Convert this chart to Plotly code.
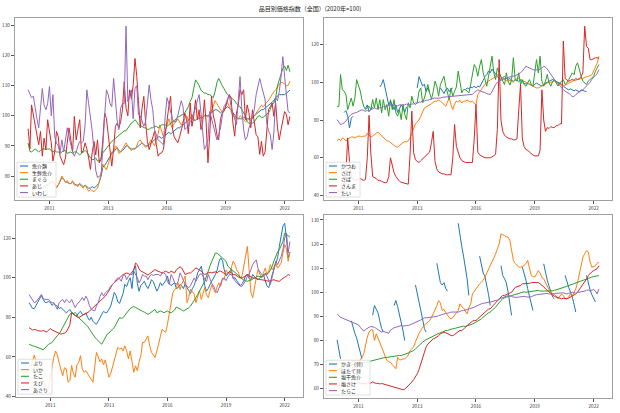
import pandas as pd
import plotly.graph_objects as go

N = None
months = pd.date_range("2010-01-01", periods=148, freq="MS")
tick_labels = ["2011", "2013", "2016", "2019", "2022"]
tick_month_index = [12, 45, 78, 111, 144]
title_text = "品目別価格指数（全国）(2020年=100)"

# ---------------- panel 1 ----------------
gyokairui = [
    77, 77.5, 77, 76.5, 77, 77.5, 77, 76.5, 76, 76.5, 77, 77,
    77.5, 78, 78, 77, 76.5, 77, 78, 79.5, 79, 78, 78, 77.5,
    77.5, 78, 77.5, 77, 77, 77.5, 77, 76.5, 77, 76.5, 76, 76,
    76.5, 76, 76.5, 77, 78, 80, 83, 83.5, 84.5, 85.5, 86.5, 87.5,
    88, 89, 89.5, 88.5, 88, 88.5, 89, 90, 90, 89.5, 89, 89,
    89, 89.5, 90, 90.5, 91, 90.5, 90, 90, 90.5, 91, 91.5, 92,
    92.5, 93, 93, 92.5, 93, 93.5, 94, 94.5, 94, 94.5, 95, 95.5,
    96, 96, 96.5, 97, 97.5, 98, 98.5, 99, 99, 98.5, 98.5, 99,
    99, 99.5, 99.5, 100, 100, 100, 100.5, 101, 101.5, 102, 102, 101.5,
    101, 101.5, 102, 102.5, 103, 102.5, 102, 101, 100, 99.5, 99, 99,
    99, 99.5, 99.5, 99, 99, 99, 99.5, 100, 100.5, 101, 101.5, 102,
    102, 102.5, 103, 103.5, 104, 104.5, 105, 106, 106.5, 107, 107, 107,
    107, 107.5, 108, 108.5]
seisen_gyokai = [
    77, 77.5, 76.5, 76, 76.5, 77.5, 77, 76, 75.5, 76.5, 77, 77,
    77.5, 78, 78.5, 77, 76, 77, 78.5, 80, 79, 78, 78.5, 77.5,
    77.5, 78.5, 77, 77, 76.5, 77.5, 76.5, 76, 77, 76, 75, 75.5,
    75, 74.8, 75.5, 76, 78, 81, 84, 83, 82, 84, 86, 88,
    88, 90, 89.5, 87.5, 88, 89, 90, 91, 90, 89, 88.5, 89,
    89, 90, 91.5, 92, 91, 90, 89.5, 90, 91, 92, 91, 90,
    92, 94, 97, 94.5, 93, 95, 97, 99, 97, 96, 97.5, 98,
    99, 98, 97, 98, 99, 100, 98.5, 99, 100.5, 99, 98.5, 99,
    100, 100, 99.5, 100, 100, 99.5, 100, 101.5, 103, 105, 104, 103,
    102, 101, 102, 103, 104.5, 103, 101.5, 100, 99.5, 99, 99, 100,
    99.5, 98.5, 98, 98.5, 99, 98.5, 99, 100, 101, 102, 103, 103.5,
    103, 104, 104.5, 105, 106, 107, 108, 108.5, 109.5, 110.5, 111, 111,
    110.5, 110, 110, 111.5]
maguro = [
    91, 88.2, 88, 88.5, 89, 88.5, 88, 88.5, 89, 89, 88.8, 89,
    89, 88.5, 88, 88.5, 88, 88, 87.5, 88, 88.5, 88.5, 87.5, 87.8,
    88, 87.5, 88, 88, 87.5, 87, 87.5, 88, 88.5, 88, 87, 86,
    85.5, 85.5, 86, 85, 85, 86, 87.7, 88.5, 89, 90, 90.5, 91.5,
    92, 92.5, 93, 93.5, 94, 94.5, 95, 95, 96, 96.5, 97.6, 98,
    98.7, 98, 97, 96.5, 96.5, 96, 96, 95.5, 95.5, 96, 96, 96.5,
    96.5, 96, 96.5, 97, 97, 97, 96.5, 97, 97.5, 98, 98, 99,
    99.5, 99.8, 100, 100.5, 101, 102, 103, 104.7, 106, 109, 111.9, 111,
    110, 108.5, 108, 107.5, 107.5, 107, 107, 106.5, 106, 108, 111, 112.4,
    111, 110, 109, 108, 107, 106.5, 106, 105.3, 105, 104, 103.5, 103,
    102, 101, 100, 98, 97.5, 97.5, 97.6, 98, 99, 99.8, 100, 99.5,
    99.5, 100, 100.5, 101, 102, 104, 104.2, 106, 110, 112, 114, 115.7,
    116.5, 115, 116.8, 114.6]
aji = [
    95.7, 89, 103.6, 100, 97, 93, 90.4, 94.8, 86.6, 92.6, 88.8, 98.7,
    95, 91, 85, 88, 94.8, 93, 86.6, 85, 83.8, 86, 91, 96,
    92, 88, 99.8, 92, 95.4, 98.7, 87.7, 88.5, 91, 89, 86, 82.2,
    88, 91.5, 87, 92, 84.4, 85.5, 92, 100.9, 99, 93, 87, 83.3,
    89, 96.5, 97.5, 96, 98, 102, 111.3, 102.5, 100, 108.6, 105.5, 110,
    119, 113, 105, 96, 102.5, 106.4, 98, 91.5, 88.8, 91, 93, 94.8,
    90.4, 86.6, 87.5, 87.7, 88.8, 93.7, 100, 103, 106.4, 96, 93, 92,
    91, 93, 94.8, 97.5, 100.9, 99, 94, 104.2, 96.5, 100, 105.3, 98.7,
    102, 95.4, 97.5, 105.3, 97.6, 84.4, 93.7, 106.4, 100, 97.6, 93.7, 92,
    99, 101, 101.4, 103.6, 105.5, 107, 106, 97.6, 93.2, 100.9, 103.6, 108.6,
    107, 108.6, 98.7, 103.6, 101, 96, 102, 97.6, 93.7, 93, 87.2, 91.5,
    86.6, 88, 95, 102, 103, 104.2, 99.8, 104.2, 96, 92, 95.4, 98.7,
    101.4, 100.3, 97, 99.8]
iwashi = [
    108.6, 107, 106, 106.5, 102, 99, 96, 102, 109, 103.6, 102, 104,
    109.7, 100, 107, 93, 91, 90, 87.7, 92, 88, 92, 96, 93,
    90, 88, 86.6, 88, 90, 91.5, 91, 91.5, 97, 108.6, 104, 100,
    94.8, 88, 82, 79.5, 80, 80, 91, 100, 108.6, 107, 104, 103,
    112.4, 105, 98.7, 95.4, 102.5, 104, 104, 129.7, 104.7, 107, 108.6, 99,
    109, 110, 100.3, 100, 98, 96.5, 98, 105, 110.2, 105.3, 102, 95.4,
    94, 92, 91.5, 91, 90.4, 100, 106, 104, 101.4, 99, 98, 98,
    100, 103, 105, 103, 95.4, 96, 96, 98, 99, 101, 102.5, 105,
    107, 101, 95.4, 88.8, 90, 92, 101.4, 99, 96.5, 95, 92, 93.7,
    96, 100, 103, 104, 105.3, 107, 103, 100.9, 99, 97, 105, 113,
    102, 95.4, 92, 93, 96, 97.6, 100, 102, 107, 110, 112.4, 110,
    108, 105.3, 97.6, 95, 93.7, 88.8, 94.3, 106, 105, 108, 113, 119.6,
    113, 106.4, 101.4, 101]

# ---------------- panel 2 ----------------
katsuo = [
    N, N, N, N, 84, 85, 82, 75.8, 81, 82, N, N,
    N, N, N, N, 86, 88, 84.5, 86, 87, N, N, N,
    97.5, 99, 101.4, 96, 92.5, 88, 90, 88, 85.5, 88, 84, 86,
    88, 86.5, 84, 87, N, N, N, N, N, 97, 103, 100.5,
    98, 99, 95, 97, 94.5, N, N, N, N, N, 97, 95.5,
    94, 96, 97, 95, 96.5, 97, N, N, N, N, N, N,
    96, 97, 96.5, 97.5, 97, 98, 97, 98, 97.5, 99, 101, 103,
    104, 106, 105, 107, 105.5, 104, 103, 102, 101.5, 102.5, 103, 102,
    101.5, 102, 101, 100.5, 101.5, 101, 100.5, 101, 100, 99.5, 99, 99.5,
    99, 98.5, 98, 99, 99.5, 99, 98.5, 98, 99, 99.5, 100, 100.5,
    101, 101.5, 101, 100.5, 100, 99.5, 99, 98, 97, 96.5, 96, 96.5,
    96, 95.5, 96, 95.5, 95, 96, 95.5, 95.3, 95, N, N, N,
    N, N, N, N]
sake = [
    69.1, 70, 69, 70.5, 70, 68.8, 70, 70.5, 71, 71, 70.5, 71,
    71.5, 71.4, 71, 71.5, 71.4, 73, 72, 71, 71.5, 72.5, 73, 73.5,
    72.5, 71.5, 71, 70, 69, 68.8, 68, 67, 66.5, 66, 65.6, 66.5,
    67.5, 68, 68.5, 68.5, 69, 70.5, 73, 76, 78, 79, 80, 82,
    84, 86.4, 87, 87.5, 88, 88.5, 89.5, 90, 90, 90.5, 90, 89,
    88, 87.3, 89.5, 91.7, 88, 85.5, 88.5, 90, 89.5, 90.5, 89, 90,
    90, 90.5, 90, 89.5, 90, 89, 88, 93.5, 95, 96, 97.5, 99,
    100, 100.6, 101, 101.5, 102, 103, 104, 103.5, 102.5, 102, 101.5, 101,
    100.5, 101, 100.6, 100, 101, 102, 102, 101.5, 101, 100.6, 100, 99.5,
    99, 98.5, 98, 97.5, 97, 97, 97.5, 98, 98.5, 99, 99.7, 100,
    100, 100.5, 100.6, 100, 99.5, 99, 98.5, 98, 98.5, 99, 99.5, 100,
    100.5, 101, 101, 101.5, 101.5, 102, 102, 102.5, 103, 103, 103.5, 104,
    106, 108, 110, 113.8]
saba = [
    87, 87.3, 104.1, 96, 95.3, 93.5, 85.5, 88.2, 91.7, 87.3, 91.7, 101.4,
    98.8, 95.3, 90.8, 87.3, 85.5, 86.5, 87.3, 85.5, 90.8, 86.5, 91.7, 85.5,
    90.8, 83.8, 90.8, 85.5, 88.2, 82, 90.8, 85.5, 90.8, 83.8, 82, 85.5,
    80.2, 88.2, 83, 80.2, 89.1, 86.5, 92.6, 89, 88.2, 89.1, 95.3, 97,
    89.1, 91.7, 96, 98.8, 94.4, 91, 95, 100.6, 97.9, 92.6, 98.8, 101,
    103.2, 97.9, 94.4, 90.8, 97, 92.6, 95.3, 97.5, 105.9, 100.6, 94.4, 96.1,
    96.1, 95.3, 94.4, 98.8, 103.2, 109.4, 107.6, 103.2, 108.5, 112, 105, 100.6,
    97.9, 103.2, 108.5, 113.8, 105, 101.4, 107.6, 105, 102.3, 100.6, 98.8, 105,
    100.6, 98.5, 101.4, 113, 101.4, 100.6, 105, 98.8, 101.4, 98.8, 97.9, 99.7,
    101.4, 98.8, 97.9, 105, 112, 105, 113.8, 100.6, 97.9, 100.6, 104.1, 99.7,
    97.9, 100.6, 101.4, 99.7, 98, 99.7, 100.6, 101.4, 98.8, 99.7, 101.4, 103.2,
    105, 104, 108.5, 110.3, 106, 103.2, 100.6, 99.7, 98.8, 100.6, 101.4, 102.3,
    103.2, 105.9, 107.6, 109.4]
sanma = [
    43, 42.5, 42, 42.5, 44, 52, 70.5, 58, 50, 48.5, 48, 48.5,
    48.5, 49, 48.5, 48, 48.5, 60, 82.5, 62, 50, 49.5, 49, 48,
    48, 47.5, 47, 46.7, 47, 50, 60, 56, 52, 50, 48.5, 47.6,
    47, 46.7, 46.5, 46.5, 46, 62, 84.7, 62.6, 59, 58, 57.5, 58.5,
    59.5, 60, 61, 62, 63, 68, 74, 58, 54, 52.5, 52, 51.5,
    51.5, 51, 51, 51, 51, 60, 77.6, 66, 62.6, 60, 58.5, 58,
    57.5, 57.5, 57.3, 57.5, 57.5, 70, 88.2, 63, 61.5, 61, 60.5, 60,
    60, 60, 60, 60.5, 61, 62, 75, 112, 80, 74, 72, 71,
    70.5, 70, 70, 69.5, 69.5, 70, 85, 98.8, 70, 66, 64.3, 64,
    63, 62, 61.5, 61, 61, 61, 64, 96, 80, 74, 76, 75.5,
    76.5, 76, 76, 77, 77, 78, 78, 121.8, 102, 101, 100.5, 101,
    101.5, 101, 102, 101.5, 102, 103, 105, 129.7, 119, 118, 112, 112,
    112.5, 113, 113, 112.5]
tai = [
    80.2, 78.5, 77.6, 78, 78.5, 79.5, 81, 82, 83, 83.5, 83.8, 84,
    84.5, 85, 85.5, 85, 84.7, 85, 84.7, 85.5, 86, 86.4, 86, 86,
    86.5, 86.5, 87, 87.3, 87.5, 87.5, 88, 88, 88, 87.5, 87.5, 88,
    88, 88, 88, 88.5, 88, 88, 88.5, 88.5, 89, 89, 89.5, 89.5,
    90, 90, 90.5, 90.5, 90.8, 91, 91.5, 91.7, 91.5, 91.5, 91.7, 92,
    92, 92, 92.3, 92.4, 92.5, 92.6, 92.8, 93, 93, 93.2, 93.3, 93.4,
    93.5, 93.5, 93.5, 93.5, 93.6, 94.5, 95.5, 96, 95.5, 95.3, 95, 94.5,
    94, 93.8, 93.5, 95, 97, 98.8, 100, 100.6, 101.2, 101.8, 102, 102.3,
    102.5, 102.8, 103, 103.2, 103.5, 104, 104.5, 105, 106, 107, 108.5, 108,
    107.5, 107, 106.7, 106.5, 106.5, 106.7, 107, 107.5, 108.5, 108, 107, 105.5,
    104.5, 103, 101.5, 100.6, 99.5, 98, 97, 96, 95.3, 94.7, 94, 93.5,
    92.3, 92.5, 93.5, 94.3, 95, 95.5, 96, 97, 98, 98.8, 100, 101.5,
    102.3, 103.5, 104.5, 106.7]

# ---------------- panel 3 ----------------
buri = [
    87.4, 85.5, 84.5, 84.4, 86, 88, 90, 91, 89, 87.5, 87.5, 88,
    87.5, 86, 87, 86, 85.7, 84.4, 85, 84, 83, 82.3, 83, 84,
    82.5, 81.5, 81, 80.8, 82.3, 83, 81.5, 81.3, 82.3, 80, 78.5, 80,
    78, 77, 76.5, 78, 80, 81.5, 83, 82.3, 82.5, 84, 85.7, 89,
    92.5, 91, 88, 87, 89.5, 92, 96.6, 95.5, 98.2, 100, 94.5, 104,
    106, 97, 93.2, 96, 97, 98.2, 96, 94.5, 96.5, 99, 98, 95,
    93.2, 95, 97.5, 96, 97.5, 98.5, 100.8, 97, 96, 97, 97.5, 94.5,
    95, 96.5, 96, 94.5, 97, 95, 93.2, 92, 94.5, 96, 99, 102.5,
    104, 105.8, 101.6, 96, 93.2, 94.5, 96.6, 98.2, 99.5, 101.6, 104, 108,
    110, 108.5, 104, 101, 101.6, 103.5, 104.5, 99.5, 100, 98.5, 97.5, 96,
    97, 98.5, 101, 101.6, 99.5, 99, 101.6, 100.5, 99.5, 99, 100, 101,
    101.6, 98.5, 96, 95, 97.5, 101.6, 104, 107, 110, 115.8, 121, 126,
    127.5, 120, 110, 113]
ika = [
    56, 55, 58, 60.9, 57, 52, 51, 50, 48, 46, 45, 43.9,
    50, 56, 59.7, 63, 61, 57, 54, 50.5, 54.5, 54, 47.2, 48,
    55.6, 51.5, 49.7, 56, 57.2, 60.6, 54, 52.2, 53, 51.5, 49.7, 48.5,
    47.2, 55, 62.3, 60, 57.5, 59, 56, 58.5, 53, 49.7, 51.5, 55,
    58.5, 62, 64.8, 64, 64.5, 63, 65.6, 63, 59, 63, 57.5, 52.2,
    55.5, 53, 57.5, 60.6, 67.3, 67.3, 69, 70.6, 65.6, 62.3, 61, 59.7,
    63, 67, 70.6, 74, 73, 72.4, 76.5, 81.5, 87.4, 92.4, 94, 95,
    97.4, 94, 96.5, 99, 100.8, 87.4, 90, 94.3, 93, 91.7, 87.4, 91,
    93.5, 89, 92.5, 95, 91.5, 89.9, 93.5, 96.5, 94, 92.4, 95.7, 97.4,
    95.7, 99.8, 99, 103.9, 102.5, 101.6, 105, 108.3, 106.6, 104, 102.5, 99.8,
    101, 106.6, 110, 115.8, 104, 92.4, 89.9, 95.7, 100, 104, 101.6, 99.8,
    102.5, 104.8, 101.6, 103.5, 106.6, 104, 105.5, 107.4, 104.8, 106, 107.4, 112.4,
    116.7, 114.3, 108.3, 113]
tako = [
    66.4, 65.8, 65.6, 65.4, 65, 64.6, 64.3, 63.8, 63.6, 64.5, 65.5, 66.4,
    66.8, 67.3, 68.5, 69.8, 70.8, 71.5, 73, 74.5, 76.5, 78.2, 80, 81.5,
    82.3, 82, 82.3, 81.5, 79.8, 79, 78.2, 77.5, 76.5, 75.5, 74, 72.5,
    71.5, 70, 69, 68, 67.3, 66.4, 68, 69.8, 71.5, 72, 73.2, 74,
    74.8, 76.5, 78.2, 79.8, 79.5, 79.8, 81, 82.3, 83.5, 84.4, 85, 85.4,
    85, 84.4, 84, 83.7, 83, 82.6, 82, 81.5, 82, 82.6, 83.5, 84,
    82.3, 82.8, 83.2, 82.8, 82.3, 82.8, 83.2, 82.5, 82.3, 83, 83.7, 85.2,
    84.8, 84.4, 83.8, 83.2, 83.6, 84, 84.8, 85.7, 87, 88.2, 90, 91.5,
    93, 94.9, 96.5, 98.2, 101, 103.3, 106, 108.3, 110.5, 112.5, 112.3, 111.6,
    110.5, 110, 109, 108.3, 105.8, 105, 104.1, 103, 102.4, 101.5, 100.8, 99.9,
    99.3, 98.7, 98.5, 98.2, 98.5, 98.7, 99.3, 99.9, 100.5, 100.8, 100.6, 100.5,
    101, 101.6, 102, 102.4, 104, 105.8, 108.5, 110.8, 113, 114.1, 116, 118.3,
    122.5, 121.7, 120.8, 120.5]
ebi = [
    74.8, 74, 73.6, 73.8, 73.7, 73.2, 73.1, 73, 73.3, 72.8, 72.6, 73.5,
    74.3, 73.6, 73.2, 72.8, 72.6, 72, 71.5, 71.8, 72, 72.6, 74, 76,
    82.3, 81.5, 81, 80.2, 79.8, 80.5, 81, 81.5, 81.8, 82.3, 83, 84,
    84.8, 85.7, 86.5, 87.4, 88.2, 89, 89.8, 90.7, 92, 93.2, 95, 96.6,
    97.5, 98.2, 99, 99.9, 100.8, 101.6, 102, 102.4, 102, 101.6, 102.8, 104,
    107.4, 106.6, 104.5, 103.3, 103, 102.4, 102, 101.3, 102, 102.6, 103.3, 104.1,
    103.5, 103.3, 102.8, 102.4, 103, 103.3, 102.8, 102.4, 103.3, 102.8, 102.4, 104,
    105, 105.5, 105, 103.3, 101.6, 102, 102.4, 102.4, 103, 104, 105, 104.5,
    104.1, 103.3, 102.4, 101.6, 102, 102.4, 102.8, 102.4, 102.8, 103, 102.4, 103.3,
    103.3, 102.8, 102.4, 101.6, 102.4, 103, 102.4, 101.6, 101.6, 100.8, 100.3, 99.9,
    99.9, 100.3, 100.8, 101.6, 101, 100.3, 99.9, 99.9, 99.5, 99.2, 99, 99,
    98.7, 98.5, 98.2, 98.2, 98.5, 98.7, 99, 98.5, 98.2, 98.2, 99, 99.9,
    100.3, 100.8, 101.6, 101.1]
asari = [
    91.5, 90, 89, 87.4, 87.8, 89, 90.5, 91.5, 89.5, 89, 89, 89,
    88, 87.4, 87.4, 85.5, 84, 87.4, 88.2, 89, 87.4, 89, 88, 87.4,
    89, 86.5, 84.9, 86.5, 87.4, 88.5, 90, 88.5, 90.7, 89, 86, 84,
    83.5, 83.2, 85.7, 87.4, 90.5, 92.4, 90.7, 92.4, 93.2, 94, 95.7, 96.6,
    97.4, 99, 99.9, 99.5, 98.2, 101, 101.6, 99, 100.8, 101.6, 101.6, 103.3,
    101.6, 99.9, 97.4, 99, 101.6, 100.8, 100.8, 99, 100.8, 101.6, 101.1, 101.6,
    101.6, 101.6, 100.8, 102.4, 102.4, 101.6, 98, 96.6, 101.6, 100, 97.5, 96.6,
    98.2, 102.4, 100.8, 99, 96.6, 95.7, 94.9, 96, 98.2, 99.9, 98.2, 100,
    101.6, 102, 100.8, 99.9, 98, 101.6, 99, 97, 95.7, 93.5, 92.4, 94.9,
    97, 99.5, 99.9, 98.5, 100.3, 101.6, 101.6, 99.9, 98.5, 97.4, 96.6, 95.7,
    95.7, 97, 98.5, 100.8, 102, 104, 106.6, 108, 109, 104.5, 103, 101.6,
    100.8, 102.4, 100.8, 98.2, 96.6, 100.5, 104, 108.3, 106.6, 108.5, 110.8, 114.2,
    120, 122.5, 112.5, 118.3]

# ---------------- panel 4 ----------------
kaki = [
    80.3, 76.5, 72.4, N, N, N, N, N, 88.2, 85, 83, 81,
    78, 75, 72.4, N, N, N, N, N, 90.5, 94.5, 93, 91.5,
    88, 85, 83.5, N, N, N, N, N, 94.5, 96.6, 94, 91,
    88, 84, 80, N, N, N, N, N, 103, 100, 96, 92.5,
    88, 85, 83.5, N, N, N, N, N, 112, 108, 104, 103,
    104, 101.5, 100.5, N, N, N, N, N, 128.6, 123, 119, 115,
    110, 105.5, 98.7, N, N, N, N, N, 115, 111, 108, 106.5,
    103, 99, 94.5, N, N, N, N, N, 111, 107, 105.6, 104,
    100, 95, 90.4, N, N, N, N, N, 110.4, 108, 105, 101.5,
    98.5, 95.5, 92.4, N, N, N, N, N, 111.8, 108, 105, 102.5,
    100, 98, 97.3, N, N, N, N, N, 107, 104, 102, 100,
    98, 95, 91.8, N, N, N, N, N, 107, 103.5, 101, 99,
    97.5, 96, N, N]
hotate = [
    70, 70.5, 71, 70.5, 70, 69.5, 70, 70.5, 71, 71.5, 71, 70.5,
    71, 72, 73, 74.5, 78, 81.4, 83.5, 84.4, 84.5, 80, 82.8, 81,
    79, 77.3, 75, 73, 71.7, 71.2, 71, 70, 69, 68.3, 73, 72,
    72, 72.4, 72.4, 73, 74, 75.9, 76.6, 77.3, 79.5, 81.4, 83, 84.2,
    85.5, 86.5, 87, 87.6, 88.3, 89.5, 91, 93, 94.5, 96.6, 95.5, 92.4,
    93, 91.5, 90.4, 89.5, 89, 89.5, 90.5, 91.5, 92.4, 95.2, 94, 93.5,
    92.4, 91, 93.5, 95, 99.3, 100.5, 101.4, 102.8, 103.5, 104.2, 105, 106.3,
    108, 109, 110.5, 112.5, 114, 115.9, 118, 120, 124.2, 124, 123.5, 123,
    122.8, 121.4, 116.6, 113.2, 112, 111, 110.5, 110.4, 110.8, 111, 112, 113.2,
    110, 106.9, 106.5, 106.3, 107.5, 109, 108, 106, 105.6, 104, 102, 101,
    100, 99.5, 99.3, 98.5, 97.3, 98.5, 99.3, 98.5, 97.5, 97.3, 98, 99.3,
    98.5, 100, 101.4, 104, 108, 111, 114.5, 116, 117.3, 116.8, 112.5, 110.4,
    110.8, 111, 112, 112.5]
shiohoshi = [
    68, 68.2, 68.5, 68.5, 68.8, 69, 69.2, 69.5, 69.8, 70, 70, 70.2,
    70.5, 70.5, 70.8, 70.8, 71, 71, 71.2, 71.5, 71.7, 71.7, 72, 72.3,
    72.5, 72.8, 72.8, 73, 73, 73.2, 73.4, 73.4, 73.5, 73.6, 73.8, 73.8,
    73.8, 74, 74.2, 74.5, 74.8, 75.2, 75.5, 75.9, 76.5, 77.3, 78, 78.6,
    79.3, 80, 80.4, 80.7, 81, 81.4, 81.8, 82.2, 82.6, 83, 83.3, 83.5,
    83.8, 84.2, 84.2, 84.5, 84.7, 84.9, 85, 85.2, 85.5, 85.5, 85.8, 86,
    85.8, 86, 86.2, 86.5, 86.8, 87.2, 87.6, 88, 88.3, 89, 89.7, 90.4,
    91, 91.5, 91.8, 92.4, 93, 93.8, 94.8, 95.9, 96.6, 97.3, 97.8, 98,
    98.2, 98.4, 98.7, 98.8, 99, 99.3, 99.4, 99.6, 100, 100.2, 100, 100.1,
    100.3, 100.5, 100.5, 100.5, 100.6, 100.8, 100.5, 100.5, 100.4, 100.6, 100.5, 100.4,
    100.5, 100.6, 100.8, 101, 101.2, 101.4, 101.7, 102, 102.2, 102.5, 102.8, 103,
    103.2, 103.5, 103.8, 104.2, 104.5, 104.8, 105, 105.3, 105.6, 105.9, 106.1, 106.3,
    106.5, 106.7, 106.8, 106.9]
shiosake = [
    61, 61.5, 61.5, 62, 62, 61.8, 62, 62.3, 62.5, 62, 62.2, 62.5,
    62.5, 62.3, 62, 62.2, 62, 62, 62, 62.5, 62.8, 62.5, 62.2, 62.3,
    62, 62.2, 62, 61.8, 61.5, 61.2, 61, 60.8, 60.7, 60.3, 60, 59.8,
    59.6, 59.6, 59.8, 60.5, 61.2, 62, 62.8, 63.8, 65, 66.2, 68, 70.5,
    73.1, 75.5, 77.3, 78.5, 79.3, 80, 80.7, 81, 81.4, 82, 82.8, 83.2,
    83.5, 83.2, 83, 82.5, 82.1, 82, 82.5, 83.2, 83.8, 84.2, 84, 84.9,
    85.5, 86.2, 86.9, 87.6, 88, 88.3, 88.3, 89, 89.7, 90.4, 91, 91.8,
    92.4, 93.1, 93.1, 94, 94.8, 95.9, 96.6, 97.3, 98, 98.7, 98.7, 99,
    99.3, 99.7, 100, 101, 102, 102.3, 102.5, 102.8, 103.5, 103.5, 103.5, 103.7,
    103.7, 104, 104, 104.2, 104.2, 104, 103.5, 103, 102.3, 101.4, 100.7, 100,
    99.3, 98.7, 98.3, 98, 97.8, 97.5, 97.3, 97.5, 97.3, 97.3, 97.6, 98,
    98.5, 99, 99.3, 100, 101, 102, 103.5, 104.5, 105.5, 106.9, 107.8, 108.5,
    109, 109.5, 109.7, 111]
tarako = [
    91, 90.2, 89.6, 89.3, 89, 88.7, 88.3, 88.3, 87.9, 87.6, 87.2, 86.9,
    86.5, 85.5, 84.9, 83.9, 84.5, 85.2, 85.5, 85.8, 85.8, 85.5, 85, 84.5,
    84, 83.5, 83.8, 83.5, 83.2, 83, 84.3, 85, 85.3, 85.5, 85.8, 86,
    86.2, 86, 86.2, 86.2, 86.2, 86.5, 86.8, 87, 87.3, 87.6, 88, 88.5,
    89, 89.4, 89.4, 89.5, 89.4, 89.5, 89.7, 89.7, 90, 90.3, 90.6, 91,
    91, 91.2, 91.2, 91.5, 91.8, 91.8, 91.5, 91.6, 91.8, 92, 92.4, 92.4,
    92.6, 92.8, 93, 93.2, 93.5, 93.8, 94.2, 94.6, 95, 95.2, 95.4, 95.6,
    95.9, 96, 96, 96.1, 96.3, 96.5, 96.6, 97, 97.5, 97.9, 98.2, 98.4,
    98.5, 98.5, 98.3, 98, 97.8, 97.9, 98, 98.2, 98.4, 98.3, 98.1, 98,
    98, 98.2, 98.5, 98.7, 99, 99.1, 99.2, 99.3, 99.4, 99.6, 99.5, 99.3,
    99.2, 99.3, 99.5, 99.6, 99.7, 99.9, 100, 99.8, 99.5, 99.3, 99.6, 99.8,
    100, 99.8, 99.6, 99.9, 100, 100, 100.2, 100.5, 100.8, 101, 100.6, 100.8,
    101.1, 100.5, 99.3, 101.4]

panel_series = [
    [("魚介類", gyokairui), ("生鮮魚介", seisen_gyokai), ("まぐろ", maguro), ("あじ", aji), ("いわし", iwashi)],
    [("かつお", katsuo), ("さけ", sake), ("さば", saba), ("さんま", sanma), ("たい", tai)],
    [("ぶり", buri), ("いか", ika), ("たこ", tako), ("えび", ebi), ("あさり", asari)],
    [("かき（貝）", kaki), ("ほたて貝", hotate), ("塩干魚介", shiohoshi), ("塩さけ", shiosake), ("たらこ", tarako)],
]
y_dticks = [10, 20, 20, 10]

for series in panel_series:
    for name, vals in series:
        assert len(vals) == len(months), (name, len(vals))

# ---------------- styling ----------------
COLORS = ["#1f77b4", "#ff7f0e", "#2ca02c", "#d62728", "#9467bd"]
FONT = "Noto Sans CJK JP"
W, H = 620, 413
# panel frames in pixels: left, top, right, bottom
boxes = [(15, 18, 303, 201), (324, 18, 612, 201), (16, 216, 303, 399), (324, 216, 612, 400)]
FRAME = "#a0a0a0"

fig = go.Figure()
span = months[-1] - months[0]
xr = [months[0] - span * 0.05, months[-1] + span * 0.05]

for k, series in enumerate(panel_series):
    ax = "" if k == 0 else str(k + 1)
    for i, (name, vals) in enumerate(series):
        fig.add_trace(go.Scatter(
            x=months, y=vals, name=name, mode="lines",
            line=dict(color=COLORS[i], width=1), connectgaps=False,
            showlegend=False, xaxis="x" + ax, yaxis="y" + ax,
            hovertemplate="%{x|%Y-%m}: %{y}<extra>" + name + "</extra>"))
    l, t, r, b = boxes[k]
    allv = [v for _, vs in series for v in vs if v is not None]
    lo, hi = min(allv), max(allv)
    pad = 0.05 * (hi - lo)
    common = dict(showline=True, linecolor=FRAME, linewidth=1.4, mirror=True,
                  ticks="outside", ticklen=3, tickwidth=0.8, tickcolor="#555",
                  showgrid=False, zeroline=False,
                  tickfont=dict(family=FONT, size=4.7, color="#333"))
    fig.update_layout({
        "xaxis" + ax: dict(domain=[l / W, r / W], range=xr, anchor="y" + ax,
                           tickvals=[months[j] for j in tick_month_index],
                           ticktext=tick_labels, **common),
        "yaxis" + ax: dict(domain=[1 - b / H, 1 - t / H], range=[lo - pad, hi + pad],
                           anchor="x" + ax, tick0=0, dtick=y_dticks[k], **common),
    })
    # legend box (lower left) built from the series names/colours
    pw, ph = r - l, b - t
    xref, yref = "x" + ax + " domain", "y" + ax + " domain"
    maxlen = max(len(n) for n, _ in series)
    box_w = 15.5 + maxlen * 5.0 + 3.5
    fig.add_shape(type="rect", xref=xref, yref=yref,
                  x0=2 / pw, x1=(2 + box_w) / pw, y0=3 / ph, y1=38 / ph,
                  line=dict(color="#d8d8d8", width=0.8),
                  fillcolor="rgba(255,255,255,0.85)", layer="above")
    for i, (name, _) in enumerate(series):
        yc = (38 - 3.8 - i * 6.67) / ph
        fig.add_shape(type="line", xref=xref, yref=yref,
                      x0=5 / pw, x1=13 / pw, y0=yc, y1=yc,
                      line=dict(color=COLORS[i], width=1.1), layer="above")
        fig.add_annotation(xref=xref, yref=yref, x=15.5 / pw, y=yc, text=name,
                           showarrow=False, xanchor="left", yanchor="middle",
                           borderpad=0, font=dict(family=FONT, size=5, color="#222"))

fig.update_layout(
    width=W, height=H,
    margin=dict(l=0, r=0, t=0, b=0),
    paper_bgcolor="white", plot_bgcolor="white",
    font=dict(family=FONT, size=6, color="#222"),
    title=dict(text=title_text, x=0.5, xanchor="center", y=1 - 9 / H, yanchor="middle",
               font=dict(family=FONT, size=6, color="#222")),
    showlegend=False,
)

# remove the browser's default 8px page margin so the figure sits at the window origin
fig.write_html("out.html", config={"displayModeBar": False},
               post_script="document.body.style.margin='0';")
